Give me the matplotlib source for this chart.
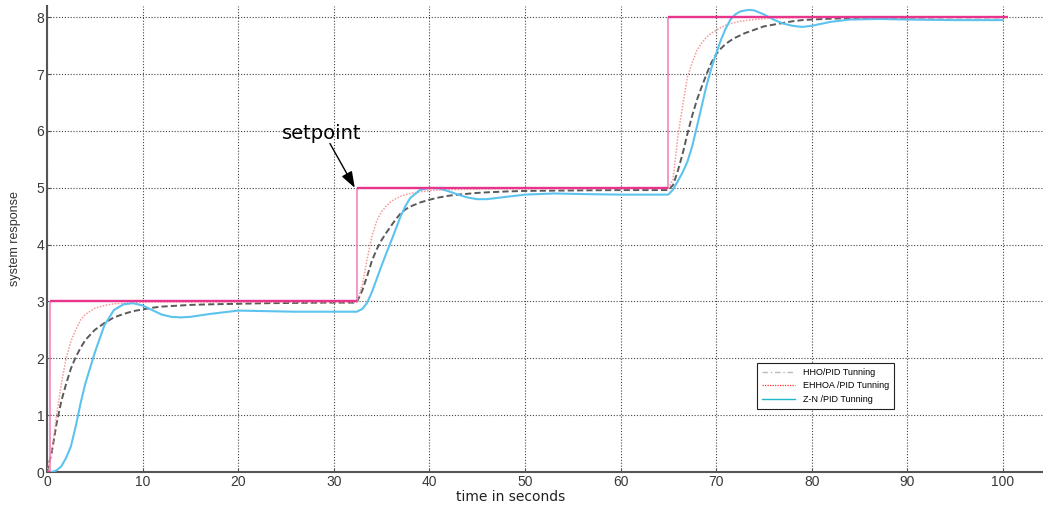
import matplotlib
matplotlib.use("Agg")
import matplotlib.pyplot as plt
from matplotlib.lines import Line2D

# ---------------- data ----------------
time_s = [0, 0.5, 1, 1.5, 2, 2.5, 3, 3.5, 4, 5, 6, 7, 8, 9, 10, 11, 12, 13, 14, 15,
          17, 20, 23, 26, 29, 32.4,
          33, 33.5, 34, 34.5, 35, 35.5, 36, 36.5, 37, 37.5, 38, 39, 40, 41, 42, 43, 44,
          45, 46, 48, 50, 53, 56, 60, 65,
          65.5, 66, 66.5, 67, 67.5, 68, 68.5, 69, 69.5, 70, 70.5, 71, 71.5, 72, 72.5,
          73, 73.5, 74, 75, 76, 77,
          78, 79, 80, 82, 84, 87, 90, 95, 100]

hho_pid = [0, 0.35, 0.85, 1.25, 1.55, 1.82, 2.02, 2.18, 2.32, 2.5, 2.62, 2.72, 2.78, 2.83,
           2.86, 2.89, 2.91, 2.92, 2.93, 2.94,
           2.95, 2.96, 2.97, 2.975, 2.98, 2.98,
           3.2, 3.45, 3.72, 3.92, 4.08, 4.21, 4.33, 4.45, 4.55, 4.62, 4.67, 4.74, 4.79,
           4.83, 4.86, 4.88, 4.895,
           4.91, 4.92, 4.935, 4.945, 4.95, 4.955, 4.96, 4.96,
           5.05, 5.3, 5.6, 5.95, 6.27, 6.55, 6.78, 7.0, 7.2, 7.35, 7.45, 7.53, 7.59,
           7.64, 7.68, 7.72, 7.75, 7.78,
           7.84, 7.87, 7.9,
           7.93, 7.95, 7.96, 7.975, 7.985, 7.99, 7.995, 8.0, 8.0]

ehhoa_pid = [0, 0.35, 1.0, 1.55, 2.0, 2.3, 2.5, 2.67, 2.77, 2.88, 2.93, 2.96, 2.97, 2.98,
             2.985, 2.99, 2.99, 2.99, 2.99, 2.99,
             2.99, 2.99, 2.99, 2.99, 2.99, 2.99,
             3.3, 3.75, 4.15, 4.42, 4.58, 4.68, 4.76, 4.81, 4.85, 4.88, 4.9, 4.93, 4.95,
             4.96, 4.97, 4.97, 4.975,
             4.975, 4.98, 4.98, 4.98, 4.985, 4.985, 4.99, 4.99,
             5.15, 5.9, 6.45, 6.95, 7.2, 7.42, 7.55, 7.65, 7.72, 7.77, 7.82, 7.86, 7.89,
             7.91, 7.93, 7.94, 7.95, 7.96,
             7.975, 7.985, 7.99,
             7.99, 8.0, 8.0, 8.0, 8.0, 8.0, 8.0, 8.0, 8.0]

zn_pid = [0, 0.0, 0.03, 0.1, 0.25, 0.45, 0.8, 1.2, 1.55, 2.1, 2.58, 2.85, 2.95, 2.97,
          2.93, 2.85, 2.77, 2.73, 2.72, 2.73,
          2.78, 2.84, 2.83, 2.82, 2.82, 2.82,
          2.87, 2.98, 3.17, 3.4, 3.63, 3.85, 4.06, 4.28, 4.5, 4.68, 4.82, 4.96, 5.0,
          4.99, 4.94, 4.88, 4.83,
          4.8, 4.8, 4.84, 4.88, 4.9, 4.89, 4.88, 4.88,
          4.97, 5.12, 5.27, 5.46, 5.73, 6.08, 6.44, 6.8, 7.1, 7.36, 7.6, 7.8, 7.96,
          8.05, 8.1, 8.12, 8.13, 8.12,
          8.05, 7.96, 7.89,
          7.85, 7.83, 7.85, 7.92, 7.96, 7.97, 7.96, 7.95, 7.95]

setpoint_times = [0, 0.3, 32.4, 65, 100.5]
setpoint_levels = [0, 3, 5, 8]

legend_labels = ["HHO/PID Tunning", "EHHOA /PID Tunning", "Z-N /PID Tunning"]
x_ticks = [0, 10, 20, 30, 40, 50, 60, 70, 80, 90, 100]
y_ticks = [0, 1, 2, 3, 4, 5, 6, 7, 8]

# ---------------- figure ----------------
fig = plt.figure(figsize=(10.43, 5.05), dpi=100)
ax = fig.add_axes([0.04506, 0.0653, 0.95494, 0.923])

ax.plot(time_s, hho_pid, color="#5a5a5a", lw=1.4, linestyle=(0, (3.2, 1.6)), zorder=3)
ax.plot(time_s, ehhoa_pid, color="#f59a9a", lw=1.1, linestyle=(0, (1, 1)), zorder=3)
ax.plot(time_s, zn_pid, color="#5cc3ee", lw=1.5, zorder=3)

# setpoint: horizontal levels (strong) and vertical jumps (light)
ax.hlines(setpoint_levels, setpoint_times[:-1], setpoint_times[1:],
          color="#e8348c", lw=1.7, zorder=5)
ax.vlines(setpoint_times[1:-1], setpoint_levels[:-1], setpoint_levels[1:],
          color="#f27ab8", lw=1.1, zorder=4)

ax.set_xlim(0, 104.2)
ax.set_ylim(0, 8.2)
ax.set_xticks(x_ticks)
ax.set_yticks(y_ticks)
ax.grid(True, color="#444444", linestyle=(0, (1, 1.6)), lw=0.8)
ax.set_axisbelow(True)

for s in ("top", "right"):
    ax.spines[s].set_visible(False)
for s in ("left", "bottom"):
    ax.spines[s].set_color("#555555")
    ax.spines[s].set_linewidth(1.5)

ax.tick_params(direction="in", length=3, width=0.8, colors="#555555",
               labelcolor="#3a3a3a", labelsize=10, pad=2)
for lab in ax.get_xticklabels() + ax.get_yticklabels():
    lab.set_fontfamily("Liberation Sans")

ax.set_ylabel("system response", fontsize=9, family="Liberation Sans",
              color="#333333", labelpad=11)
ax.set_xlabel("time in seconds", fontsize=10, family="DejaVu Sans",
              color="#222222", labelpad=0)
ax.xaxis.set_label_coords(0.465, -0.039)

ax.text(28.7, 5.85, "setpoint", fontsize=14, family="DejaVu Sans",
        ha="center", va="baseline", zorder=6)
ax.annotate("", xy=(32.2, 5.0), xytext=(29.6, 5.78),
            arrowprops=dict(arrowstyle="-|>,head_length=0.7,head_width=0.25",
                            color="black", lw=1.0, mutation_scale=14,
                            shrinkA=0, shrinkB=0),
            zorder=6)

handles = [
    Line2D([], [], color="#bbbbbb", lw=1.0, linestyle=(0, (4, 2, 1, 2))),
    Line2D([], [], color="#ff3030", lw=0.9, linestyle=(0, (1, 1))),
    Line2D([], [], color="#20b8c8", lw=1.0),
]
leg = ax.legend(handles, legend_labels, loc="upper left",
                bbox_to_anchor=(0.713, 0.234),
                prop={"family": "Liberation Sans", "size": 6.5},
                frameon=True, fancybox=False, edgecolor="#222222", framealpha=1,
                handlelength=3.6, labelspacing=0.5, borderpad=0.55,
                handletextpad=0.9, borderaxespad=0)
leg.get_frame().set_linewidth(0.8)

fig.savefig("out.png", dpi=100)
